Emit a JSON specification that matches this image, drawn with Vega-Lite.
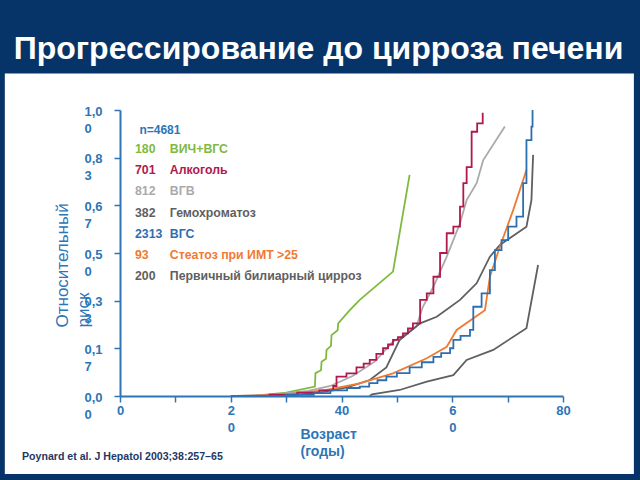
{
  "$schema": "https://vega.github.io/schema/vega-lite/v6.json",
  "autosize": {"type": "none"},
  "width": 443,
  "height": 286,
  "padding": {"left": 120, "top": 110, "right": 77, "bottom": 84},
  "background": "#063468",
  "config": {"view": {"stroke": null}, "font": "Liberation Sans"},
  "title": {
    "text": "Прогрессирование до цирроза печени",
    "color": "white",
    "font": "Liberation Sans",
    "fontSize": 32,
    "fontWeight": "bold",
    "anchor": "middle",
    "frame": "group",
    "baseline": "alphabetic",
    "dx": -23,
    "dy": 58,
    "offset": 40
  },
  "datasets": {
    "curves": [
      {"g": "ВИЧ+ВГС", "age": 24, "risk": 0},
      {"g": "ВИЧ+ВГС", "age": 30, "risk": 0.012},
      {"g": "ВИЧ+ВГС", "age": 35.2, "risk": 0.033},
      {"g": "ВИЧ+ВГС", "age": 35.3, "risk": 0.08},
      {"g": "ВИЧ+ВГС", "age": 36.3, "risk": 0.09},
      {"g": "ВИЧ+ВГС", "age": 36.4, "risk": 0.12},
      {"g": "ВИЧ+ВГС", "age": 37.2, "risk": 0.13},
      {"g": "ВИЧ+ВГС", "age": 37.3, "risk": 0.161},
      {"g": "ВИЧ+ВГС", "age": 38.1, "risk": 0.175},
      {"g": "ВИЧ+ВГС", "age": 38.2, "risk": 0.213},
      {"g": "ВИЧ+ВГС", "age": 39.3, "risk": 0.23},
      {"g": "ВИЧ+ВГС", "age": 39.4, "risk": 0.254},
      {"g": "ВИЧ+ВГС", "age": 41.5, "risk": 0.3},
      {"g": "ВИЧ+ВГС", "age": 43.3, "risk": 0.336},
      {"g": "ВИЧ+ВГС", "age": 49.3, "risk": 0.435},
      {"g": "ВИЧ+ВГС", "age": 52.3, "risk": 0.773},

      {"g": "Алкоголь", "age": 22, "risk": 0},
      {"g": "Алкоголь", "age": 27, "risk": 0.005},
      {"g": "Алкоголь", "age": 32, "risk": 0.012},
      {"g": "Алкоголь", "age": 36, "risk": 0.02},
      {"g": "Алкоголь", "age": 38.5, "risk": 0.035},
      {"g": "Алкоголь", "age": 39.1, "risk": 0.068},
      {"g": "Алкоголь", "age": 40.9, "risk": 0.079},
      {"g": "Алкоголь", "age": 42.7, "risk": 0.1},
      {"g": "Алкоголь", "age": 44, "risk": 0.113},
      {"g": "Алкоголь", "age": 45.1, "risk": 0.126},
      {"g": "Алкоголь", "age": 46.3, "risk": 0.147},
      {"g": "Алкоголь", "age": 47.5, "risk": 0.167},
      {"g": "Алкоголь", "age": 48.4, "risk": 0.18},
      {"g": "Алкоголь", "age": 49.3, "risk": 0.196},
      {"g": "Алкоголь", "age": 50.2, "risk": 0.206},
      {"g": "Алкоголь", "age": 51.1, "risk": 0.219},
      {"g": "Алкоголь", "age": 52, "risk": 0.236},
      {"g": "Алкоголь", "age": 52.9, "risk": 0.254},
      {"g": "Алкоголь", "age": 54.2, "risk": 0.336},
      {"g": "Алкоголь", "age": 55.4, "risk": 0.359},
      {"g": "Алкоголь", "age": 56.6, "risk": 0.417},
      {"g": "Алкоголь", "age": 57.8, "risk": 0.5},
      {"g": "Алкоголь", "age": 59.0, "risk": 0.569},
      {"g": "Алкоголь", "age": 60.2, "risk": 0.592},
      {"g": "Алкоголь", "age": 61.4, "risk": 0.662},
      {"g": "Алкоголь", "age": 62.0, "risk": 0.744},
      {"g": "Алкоголь", "age": 62.6, "risk": 0.8},
      {"g": "Алкоголь", "age": 63.5, "risk": 0.924},
      {"g": "Алкоголь", "age": 64.5, "risk": 0.953},
      {"g": "Алкоголь", "age": 65.5, "risk": 0.99},

      {"g": "ВГВ", "age": 21, "risk": 0},
      {"g": "ВГВ", "age": 28, "risk": 0.006},
      {"g": "ВГВ", "age": 34, "risk": 0.018},
      {"g": "ВГВ", "age": 38, "risk": 0.035},
      {"g": "ВГВ", "age": 42, "risk": 0.07},
      {"g": "ВГВ", "age": 46, "risk": 0.12},
      {"g": "ВГВ", "age": 49.3, "risk": 0.19},
      {"g": "ВГВ", "age": 51, "risk": 0.21},
      {"g": "ВГВ", "age": 53.5, "risk": 0.242},
      {"g": "ВГВ", "age": 54.7, "risk": 0.312},
      {"g": "ВГВ", "age": 56.6, "risk": 0.382},
      {"g": "ВГВ", "age": 59.0, "risk": 0.487},
      {"g": "ВГВ", "age": 61.4, "risk": 0.604},
      {"g": "ВГВ", "age": 62.6, "risk": 0.685},
      {"g": "ВГВ", "age": 64.4, "risk": 0.744},
      {"g": "ВГВ", "age": 65.6, "risk": 0.825},
      {"g": "ВГВ", "age": 69.5, "risk": 0.942},

      {"g": "Гемохроматоз", "age": 25, "risk": 0},
      {"g": "Гемохроматоз", "age": 32, "risk": 0.005},
      {"g": "Гемохроматоз", "age": 37, "risk": 0.015},
      {"g": "Гемохроматоз", "age": 41, "risk": 0.03},
      {"g": "Гемохроматоз", "age": 45.1, "risk": 0.056},
      {"g": "Гемохроматоз", "age": 48.1, "risk": 0.1},
      {"g": "Гемохроматоз", "age": 50.5, "risk": 0.196},
      {"g": "Гемохроматоз", "age": 54.2, "risk": 0.254},
      {"g": "Гемохроматоз", "age": 57.2, "risk": 0.277},
      {"g": "Гемохроматоз", "age": 61.4, "risk": 0.336},
      {"g": "Гемохроматоз", "age": 64.4, "risk": 0.394},
      {"g": "Гемохроматоз", "age": 66.8, "risk": 0.487},
      {"g": "Гемохроматоз", "age": 68.6, "risk": 0.528},
      {"g": "Гемохроматоз", "age": 73.4, "risk": 0.592},
      {"g": "Гемохроматоз", "age": 74.3, "risk": 0.685},
      {"g": "Гемохроматоз", "age": 74.6, "risk": 0.843},

      {"g": "ВГС", "age": 20, "risk": 0},
      {"g": "ВГС", "age": 30, "risk": 0.004},
      {"g": "ВГС", "age": 35, "risk": 0.01},
      {"g": "ВГС", "age": 38, "risk": 0.02},
      {"g": "ВГС", "age": 41, "risk": 0.028},
      {"g": "ВГС", "age": 43.3, "risk": 0.033},
      {"g": "ВГС", "age": 45, "risk": 0.045},
      {"g": "ВГС", "age": 46.5, "risk": 0.055},
      {"g": "ВГС", "age": 48.1, "risk": 0.068},
      {"g": "ВГС", "age": 50, "risk": 0.08},
      {"g": "ВГС", "age": 52.3, "risk": 0.1},
      {"g": "ВГС", "age": 54.5, "risk": 0.118},
      {"g": "ВГС", "age": 56.6, "risk": 0.137},
      {"g": "ВГС", "age": 58, "risk": 0.15},
      {"g": "ВГС", "age": 59.6, "risk": 0.167},
      {"g": "ВГС", "age": 60.2, "risk": 0.196},
      {"g": "ВГС", "age": 61.5, "risk": 0.21},
      {"g": "ВГС", "age": 63.2, "risk": 0.231},
      {"g": "ВГС", "age": 63.8, "risk": 0.312},
      {"g": "ВГС", "age": 65.3, "risk": 0.359},
      {"g": "ВГС", "age": 66.8, "risk": 0.44},
      {"g": "ВГС", "age": 67.7, "risk": 0.51},
      {"g": "ВГС", "age": 68.9, "risk": 0.545},
      {"g": "ВГС", "age": 70.1, "risk": 0.592},
      {"g": "ВГС", "age": 71.6, "risk": 0.627},
      {"g": "ВГС", "age": 72.8, "risk": 0.744},
      {"g": "ВГС", "age": 73.4, "risk": 0.895},
      {"g": "ВГС", "age": 74.3, "risk": 0.942},
      {"g": "ВГС", "age": 74.5, "risk": 1.0},

      {"g": "Стеатоз при ИМТ >25", "age": 22, "risk": 0},
      {"g": "Стеатоз при ИМТ >25", "age": 30, "risk": 0.005},
      {"g": "Стеатоз при ИМТ >25", "age": 37.3, "risk": 0.021},
      {"g": "Стеатоз при ИМТ >25", "age": 43.3, "risk": 0.044},
      {"g": "Стеатоз при ИМТ >25", "age": 49.3, "risk": 0.079},
      {"g": "Стеатоз при ИМТ >25", "age": 55.4, "risk": 0.132},
      {"g": "Стеатоз при ИМТ >25", "age": 59.0, "risk": 0.172},
      {"g": "Стеатоз при ИМТ >25", "age": 60.8, "risk": 0.231},
      {"g": "Стеатоз при ИМТ >25", "age": 65.9, "risk": 0.3},
      {"g": "Стеатоз при ИМТ >25", "age": 66.8, "risk": 0.417},
      {"g": "Стеатоз при ИМТ >25", "age": 68.6, "risk": 0.522},
      {"g": "Стеатоз при ИМТ >25", "age": 71.0, "risk": 0.65},
      {"g": "Стеатоз при ИМТ >25", "age": 73.4, "risk": 0.79},

      {"g": "Первичный билиарный цирроз", "age": 45.1, "risk": 0},
      {"g": "Первичный билиарный цирроз", "age": 45.5, "risk": 0.006},
      {"g": "Первичный билиарный цирроз", "age": 50.5, "risk": 0.021},
      {"g": "Первичный билиарный цирроз", "age": 55.4, "risk": 0.05},
      {"g": "Первичный билиарный цирроз", "age": 60.2, "risk": 0.073},
      {"g": "Первичный билиарный цирроз", "age": 62.6, "risk": 0.126},
      {"g": "Первичный билиарный цирроз", "age": 67.4, "risk": 0.161},
      {"g": "Первичный билиарный цирроз", "age": 73.4, "risk": 0.237},
      {"g": "Первичный билиарный цирроз", "age": 75.5, "risk": 0.458}
    ],
    "legend": [
      {"g": "ВИЧ+ВГС", "n": "180"},
      {"g": "Алкоголь", "n": "701"},
      {"g": "ВГВ", "n": "812"},
      {"g": "Гемохроматоз", "n": "382"},
      {"g": "ВГС", "n": "2313"},
      {"g": "Стеатоз при ИМТ >25", "n": "93"},
      {"g": "Первичный билиарный цирроз", "n": "200"}
    ]
  },
  "resolve": {"scale": {"y": "independent"}},
  "layer": [
    {
      "layer": [
        {
          "data": {"values": [{}]},
          "mark": {"type": "rect", "color": "white", "clip": false},
          "encoding": {
            "x": {"datum": -20.8, "type": "quantitative", "scale": {"domain": [0, 80]}},
            "x2": {"datum": 92.8},
            "y": {"datum": 1.128, "type": "quantitative", "scale": {"domain": [0, 1]}},
            "y2": {"datum": -0.273}
          }
        },
        {
          "data": {"name": "curves"},
          "transform": [{"filter": "datum.g !== 'Алкоголь' && datum.g !== 'ВГС'"}],
          "mark": {"type": "line", "strokeWidth": 1.8},
          "encoding": {
            "x": {
              "field": "age", "type": "quantitative",
              "scale": {"domain": [0, 80]},
              "axis": {
                "zindex": 1,
                "values": [0,5,10,15,20,25,30,35,40,45,50,55,60,65,70,75,80],
                "labelExpr": "datum.value % 20 != 0 ? '' : (datum.value == 20 ? ['2','0'] : (datum.value == 60 ? ['6','0'] : datum.label))",
                "domainColor": "#2E75B6", "domainWidth": 2,
                "tickColor": "#2E75B6", "tickWidth": 1.5, "tickSize": 6,
                "labelFont": "Liberation Sans", "labelFontWeight": "bold", "labelFontSize": 13,
                "labelColor": "#2E75B6", "labelBaseline": "top", "labelPadding": 2,
                "labelLineHeight": 17, "labelOverlap": false, "labelFlush": false,
                "grid": false,
                "title": ["Возраст", "(годы)"],
                "titleFont": "Liberation Sans", "titleFontSize": 14, "titleFontWeight": "bold",
                "titleColor": "#2E75B6", "titleAlign": "left", "titleBaseline": "top",
                "titleX": 180, "titleY": 31, "titleLineHeight": 17
              }
            },
            "y": {
              "field": "risk", "type": "quantitative",
              "scale": {"domain": [0, 1]},
              "axis": {
                "zindex": 1,
                "values": [0, 0.1666667, 0.3333333, 0.5, 0.6666667, 0.8333333, 1],
                "labelExpr": "[['0,0','0'],['0,1','7'],['0,3','3'],['0,5','0'],['0,6','7'],['0,8','3'],['1,0','0']][round(datum.value*6)]",
                "domainColor": "#2E75B6", "domainWidth": 2,
                "tickColor": "#2E75B6", "tickWidth": 1.5, "tickSize": 6,
                "labelFont": "Liberation Sans", "labelFontWeight": "bold", "labelFontSize": 13,
                "labelColor": "#2E75B6", "labelAlign": "left", "labelBaseline": "alphabetic",
                "labelOffset": 5, "labelPadding": 30, "labelLineHeight": 17,
                "labelOverlap": false, "labelFlush": false,
                "grid": false,
                "title": ["Относительный", "риск"],
                "titleFont": "Liberation Sans", "titleFontSize": 17, "titleFontWeight": "normal",
                "titleColor": "#2E75B6", "titleAngle": -90, "titleAlign": "left", "titleBaseline": "top",
                "titleX": -66, "titleY": 217, "titleLineHeight": 21
              }
            },
            "color": {
              "field": "g", "type": "nominal", "legend": null,
              "scale": {
                "domain": ["ВИЧ+ВГС", "Алкоголь", "ВГВ", "Гемохроматоз", "ВГС", "Стеатоз при ИМТ >25", "Первичный билиарный цирроз"],
                "range": ["#7FBA3F", "#B01850", "#AAAAAA", "#5F5F5F", "#2C6FB0", "#F07A32", "#606060"]
              }
            }
          }
        },
        {
          "data": {"name": "curves"},
          "transform": [{"filter": "datum.g === 'Алкоголь' || datum.g === 'ВГС'"}],
          "mark": {"type": "line", "strokeWidth": 1.8, "interpolate": "step-after"},
          "encoding": {
            "x": {"field": "age", "type": "quantitative"},
            "y": {"field": "risk", "type": "quantitative"},
            "color": {"field": "g", "type": "nominal", "legend": null}
          }
        },
        {
          "data": {"values": [{"t": "n=4681"}]},
          "mark": {"type": "text", "align": "left", "baseline": "middle", "font": "Liberation Sans", "fontSize": 12, "fontWeight": "bold", "color": "#2E75B6"},
          "encoding": {
            "x": {"datum": 3.5, "type": "quantitative"},
            "y": {"datum": 0.93, "type": "quantitative"},
            "text": {"field": "t"}
          }
        },
        {
          "data": {"values": [{"t": "Poynard et al. J Hepatol 2003;38:257–65"}]},
          "mark": {"type": "text", "align": "left", "baseline": "middle", "font": "Liberation Sans", "fontSize": 10.6, "fontWeight": "bold", "color": "#1F3864", "clip": false},
          "encoding": {
            "x": {"datum": -17.7, "type": "quantitative"},
            "y": {"datum": -0.213, "type": "quantitative"},
            "text": {"field": "t"}
          }
        }
      ]
    },
    {
      "data": {"name": "legend"},
      "encoding": {
        "y": {"field": "g", "type": "nominal", "sort": null, "axis": null,
              "scale": {"type": "point", "range": [39, 166], "padding": 0}},
        "color": {"field": "g", "type": "nominal", "legend": null}
      },
      "layer": [
        {
          "mark": {"type": "text", "align": "left", "baseline": "middle", "font": "Liberation Sans", "fontSize": 12.3, "fontWeight": "bold"},
          "encoding": {
            "x": {"datum": 2.7, "type": "quantitative"},
            "text": {"field": "n"}
          }
        },
        {
          "mark": {"type": "text", "align": "left", "baseline": "middle", "font": "Liberation Sans", "fontSize": 12.3, "fontWeight": "bold"},
          "encoding": {
            "x": {"datum": 9.0, "type": "quantitative"},
            "text": {"field": "g"}
          }
        }
      ]
    }
  ]
}
